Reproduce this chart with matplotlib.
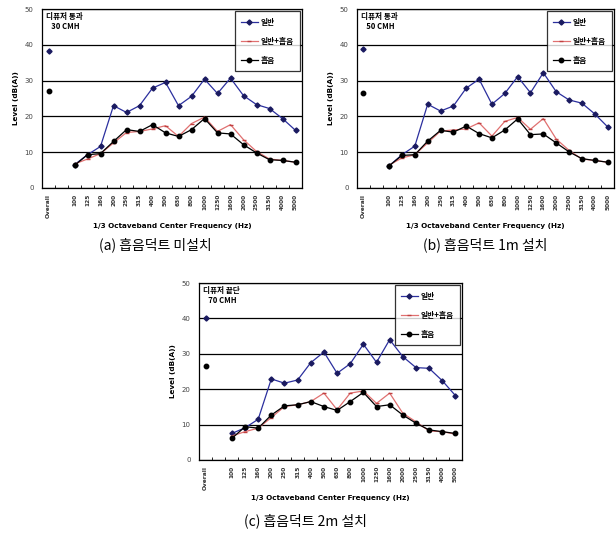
import numpy as np
import matplotlib.pyplot as plt

plt.rcParams['font.family'] = ['Noto Sans CJK KR', 'DejaVu Sans']

# 1/3 octave band categories (slot 1 left blank between Overall and 100 Hz)
categories = ["Overall", "", "100", "125", "160", "200", "250", "315", "400", "500",
              "630", "800", "1000", "1250", "1600", "2000", "2500", "3150",
              "4000", "5000"]
series_names = ["일반", "일반+흡음", "흡음"]

# (a) 30 CMH
a_normal = [38.2, np.nan, 6.5, 9.3, 11.6, 23.0, 21.1, 23.0, 27.9, 29.5, 23.0, 25.6,
            30.4, 26.4, 30.7, 25.8, 23.3, 22.2, 19.4, 16.1]
a_mixed = [27.0, np.nan, 6.7, 8.1, 9.6, 12.6, 15.5, 15.8, 16.5, 17.4, 14.4, 18.0,
           19.8, 15.8, 17.7, 13.5, 10.2, 8.1, 7.7, 7.2]
a_absorb = [27.0, np.nan, 6.3, 9.3, 9.6, 13.0, 16.3, 15.8, 17.7, 15.4, 14.4, 16.3,
            19.4, 15.4, 15.1, 12.1, 9.8, 7.9, 7.7, 7.2]

# (b) 50 CMH
b_normal = [38.8, np.nan, 6.2, 9.3, 11.7, 23.4, 21.5, 22.9, 27.9, 30.4, 23.4, 26.4,
            31.1, 26.6, 32.2, 26.9, 24.6, 23.7, 20.7, 17.1]
b_mixed = [26.6, np.nan, 6.4, 8.4, 9.3, 12.6, 15.9, 16.2, 16.5, 18.2, 14.5, 18.6,
           19.7, 16.4, 19.4, 13.7, 10.5, 8.1, 7.7, 7.2]
b_absorb = [26.6, np.nan, 6.2, 9.1, 9.3, 13.1, 16.1, 15.6, 17.3, 15.2, 14.0, 16.2,
            19.3, 14.9, 15.1, 12.6, 10.1, 8.2, 7.7, 7.2]

# (c) 70 CMH
c_normal = [40.1, np.nan, 7.5, 9.1, 11.5, 22.9, 21.7, 22.6, 27.5, 30.5, 24.5, 27.2,
            32.7, 27.6, 34.0, 29.2, 26.1, 25.9, 22.4, 18.2]
c_mixed = [26.6, np.nan, 6.8, 8.0, 9.0, 12.0, 15.1, 15.6, 16.5, 18.9, 14.2, 18.9,
           19.5, 16.0, 18.9, 13.2, 10.8, 8.2, 8.0, 7.3]
c_absorb = [26.6, np.nan, 6.1, 9.4, 9.0, 12.7, 15.3, 15.6, 16.5, 15.1, 14.0, 16.5,
            19.1, 15.1, 15.6, 12.7, 10.4, 8.5, 8.0, 7.5]

notes = ["디퓨저 통과\n   30 CMH", "디퓨저 통과\n   50 CMH", "디퓨저 끝단\n   70 CMH"]
captions = ["(a) 흡음덕트 미설치", "(b) 흡음덕트 1m 설치", "(c) 흡음덕트 2m 설치"]

W, H = 616, 541
fig = plt.figure(figsize=(W / 100, H / 100), dpi=100)


def px_axes(left, top, right, bottom):
    return fig.add_axes([left / W, 1 - bottom / H, (right - left) / W, (bottom - top) / H])


def draw(ax, normal, mixed, absorb, note):
    x = np.arange(len(categories))
    ax.plot(x, normal, color="#2b2f9e", lw=0.9, marker="D", ms=2.6, mfc="#1a1a60",
            mec="#1a1a60", label=series_names[0])
    ax.plot(x, mixed, color="#e07070", lw=0.9, marker="_", ms=3, mec="#c04040",
            label=series_names[1])
    ax.plot(x, absorb, color="black", lw=0.9, marker="o", ms=3.2, label=series_names[2])
    ax.set_xlim(-0.5, len(categories) - 0.5)
    ax.set_ylim(0, 50)
    ax.set_yticks(range(0, 51, 10))
    ax.yaxis.grid(True, color="black", lw=0.9)
    ax.set_axisbelow(True)
    ax.set_xticks(x)
    ax.set_xticklabels(categories, rotation=90, fontsize=4.2, fontweight="bold",
                       color="#333333", family="DejaVu Sans")
    ax.set_xticks(np.arange(-0.5, len(categories)), minor=True)
    ax.tick_params(axis="x", which="major", length=0, pad=4)
    ax.tick_params(axis="x", which="minor", length=2, direction="in", width=0.6)
    ax.tick_params(axis="y", length=0, labelsize=5, labelcolor="#444444", pad=6)
    for lab in ax.get_yticklabels():
        lab.set_family("DejaVu Sans")
    for s in ax.spines.values():
        s.set_linewidth(0.9)
    ax.set_ylabel("Level (dB(A))", fontsize=5.2, fontweight="bold", family="DejaVu Sans",
                  labelpad=4)
    ax.set_xlabel("1/3 Octaveband Center Frequency (Hz)", fontsize=5.2,
                  fontweight="bold", family="DejaVu Sans", labelpad=4)
    ax.text(0.015, 0.985, note, transform=ax.transAxes, va="top", ha="left",
            fontsize=5.5, fontweight="bold")
    leg = ax.legend(loc="upper right", prop={"size": 5.6, "weight": "bold"},
                    frameon=True, fancybox=False, edgecolor="black", borderpad=0.8,
                    labelspacing=1.3, handlelength=2.2, handletextpad=0.3,
                    borderaxespad=0.3)
    leg.get_frame().set_linewidth(0.9)


ax_a = px_axes(42, 9, 302, 188)
draw(ax_a, a_normal, a_mixed, a_absorb, notes[0])
ax_b = px_axes(357, 9, 614, 188)
draw(ax_b, b_normal, b_mixed, b_absorb, notes[1])
ax_c = px_axes(199, 283, 462, 460)
draw(ax_c, c_normal, c_mixed, c_absorb, notes[2])

fig.text(155 / W, 1 - 245 / H, captions[0], ha="center", va="center", fontsize=10)
fig.text(485 / W, 1 - 245 / H, captions[1], ha="center", va="center", fontsize=10)
fig.text(305 / W, 1 - 521 / H, captions[2], ha="center", va="center", fontsize=10)

fig.savefig("out.png", dpi=100)
